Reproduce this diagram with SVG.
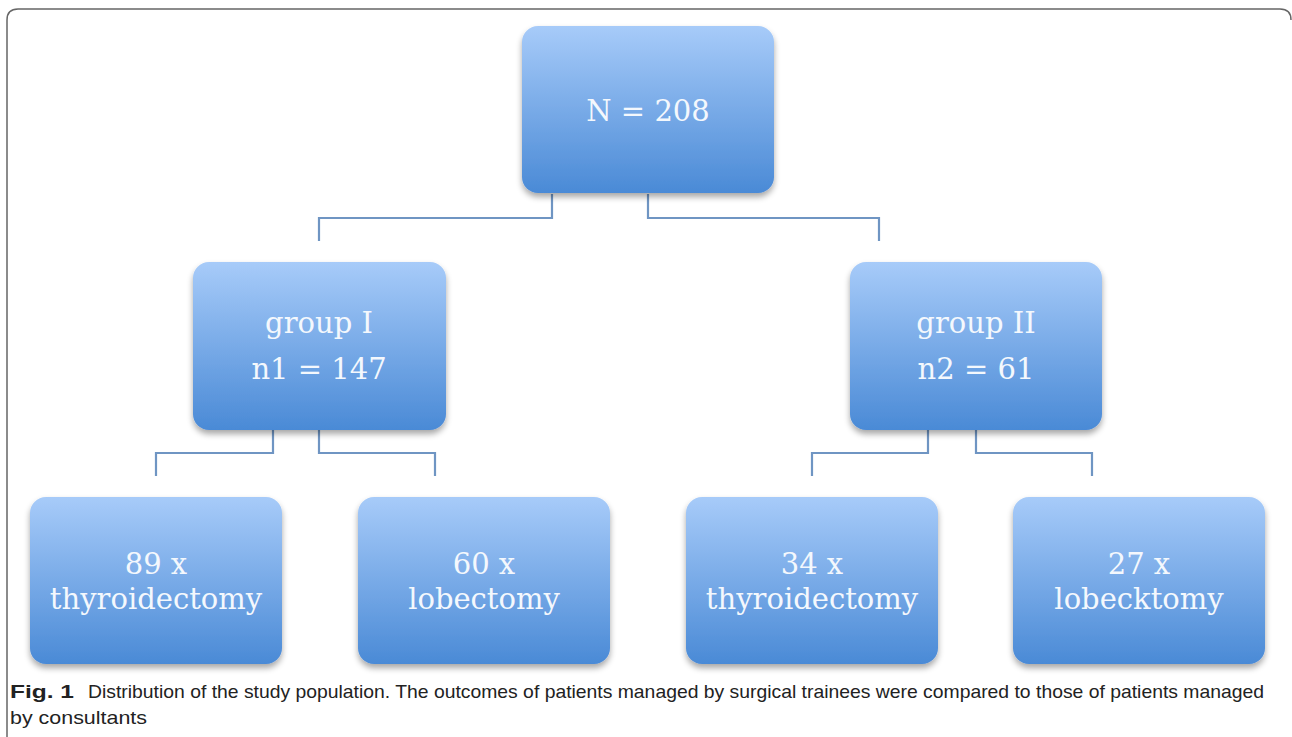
<svg xmlns="http://www.w3.org/2000/svg" width="1292" height="737" viewBox="0 0 1292 737">
<defs>
<linearGradient id="g" x1="0" y1="0" x2="0" y2="1">
<stop offset="0" stop-color="#a7cbf9"/>
<stop offset="1" stop-color="#4a8ad6"/>
</linearGradient>
<filter id="sh" x="-10%" y="-10%" width="120%" height="130%">
<feGaussianBlur in="SourceAlpha" stdDeviation="3"/>
<feOffset dx="0" dy="4" result="o"/>
<feComponentTransfer><feFuncA type="linear" slope="0.35"/></feComponentTransfer>
<feMerge><feMergeNode/><feMergeNode in="SourceGraphic"/></feMerge>
</filter>
</defs>
<style>
.box{fill:url(#g);filter:url(#sh)}
.t{font-family:"DejaVu Serif","Liberation Serif",serif;font-size:29px;fill:#f4f8fd;text-anchor:middle}
.c{fill:none;stroke:#6f95c3;stroke-width:2.2}
.cap{font-family:"Liberation Sans",Arial,sans-serif;font-size:19px;fill:#222}
</style>
<rect width="1292" height="737" fill="#fff"/>
<path d="M7,737 V20 Q7,9 18,9 H1280 Q1291,9 1291,20" fill="none" stroke="#666" stroke-width="1.5"/>
<g id="connectors">
<path class="c" d="M552,194 V218 H319 V241"/>
<path class="c" d="M648,194 V218 H879 V241"/>
<path class="c" d="M273,430 V453 H156 V476"/>
<path class="c" d="M319,430 V453 H435 V476"/>
<path class="c" d="M928,430 V453 H812 V476"/>
<path class="c" d="M976,430 V453 H1092 V476"/>
</g>
<g id="n-root"><rect class="box" x="522" y="26" width="252" height="167" rx="16"/><text class="t" x="648" y="121">N = 208</text></g>
<g id="n-g1"><rect class="box" x="193" y="262" width="253" height="168" rx="16"/><text class="t" x="319" y="333">group I</text><text class="t" x="319" y="379">n1 = 147</text></g>
<g id="n-g2"><rect class="box" x="850" y="262" width="252" height="168" rx="16"/><text class="t" x="976" y="333">group II</text><text class="t" x="976" y="379">n2 = 61</text></g>
<g id="n-b1"><rect class="box" x="30" y="497" width="252" height="167" rx="16"/><text class="t" x="156" y="574">89 x</text><text class="t" x="156" y="609">thyroidectomy</text></g>
<g id="n-b2"><rect class="box" x="358" y="497" width="252" height="167" rx="16"/><text class="t" x="484" y="574">60 x</text><text class="t" x="484" y="609">lobectomy</text></g>
<g id="n-b3"><rect class="box" x="686" y="497" width="252" height="167" rx="16"/><text class="t" x="812" y="574">34 x</text><text class="t" x="812" y="609">thyroidectomy</text></g>
<g id="n-b4"><rect class="box" x="1013" y="497" width="252" height="167" rx="16"/><text class="t" x="1139" y="574">27 x</text><text class="t" x="1139" y="609">lobecktomy</text></g>
<text class="cap" x="10" y="698" font-weight="bold" textLength="64" lengthAdjust="spacingAndGlyphs">Fig. 1</text>
<text class="cap" x="88" y="698" textLength="1176" lengthAdjust="spacingAndGlyphs">Distribution of the study population. The outcomes of patients managed by surgical trainees were compared to those of patients managed</text>
<text class="cap" x="10" y="724" textLength="137" lengthAdjust="spacingAndGlyphs">by consultants</text>
</svg>
